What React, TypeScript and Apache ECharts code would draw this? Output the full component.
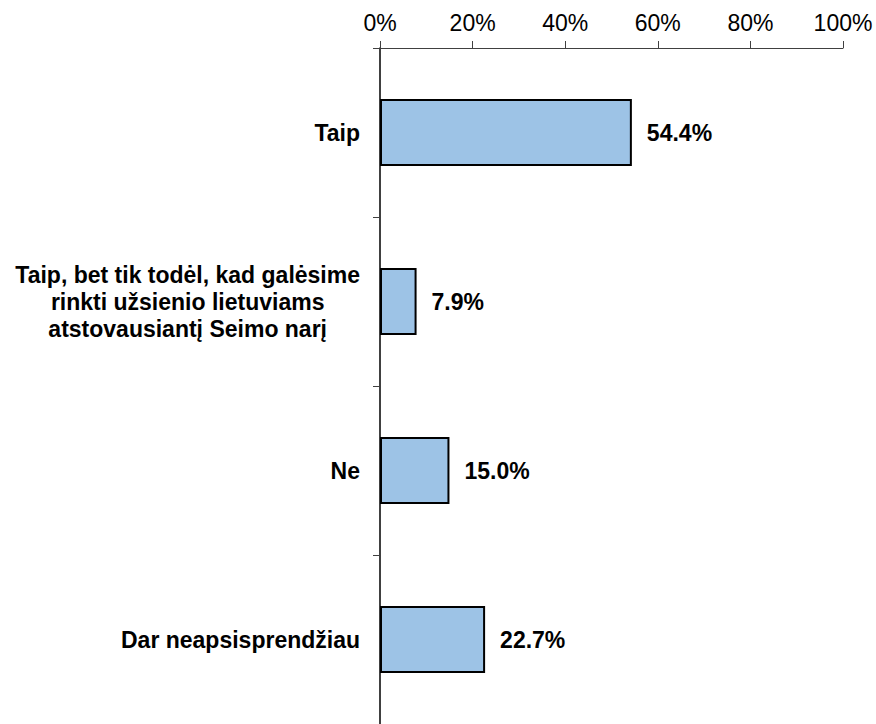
import React, { useEffect, useRef } from "react";
import * as echarts from "echarts";

const categories: string[] = [
  "Taip",
  "Taip, bet tik todėl, kad galėsime\nrinkti užsienio lietuviams\natstovausiantį Seimo narį",
  "Ne",
  "Dar neapsisprendžiau",
];
const values: number[] = [54.4, 7.9, 15.0, 22.7];
const axisMax = 100;
const axisStep = 20;

const FONT = "'Liberation Sans', Arial, sans-serif";

export default function App() {
  const ref = useRef<HTMLDivElement>(null);
  useEffect(() => {
    if (!ref.current) return;
    const chart = echarts.init(ref.current, null, { renderer: "svg" });
    chart.setOption({
      animation: false,
      backgroundColor: "#ffffff",
      grid: { left: 380, right: 33, top: 48, bottom: -4, containLabel: false },
      xAxis: {
        type: "value",
        position: "top",
        min: 0,
        max: axisMax,
        interval: axisStep,
        splitLine: { show: false },
        axisLine: { show: true, lineStyle: { color: "#404040", width: 1 } },
        axisTick: { show: true, length: 7, inside: false, lineStyle: { color: "#404040", width: 1 } },
        axisLabel: {
          formatter: (v: number) => v + "%",
          color: "#000",
          fontSize: 23,
          fontFamily: FONT,
          margin: 14,
        },
      },
      yAxis: {
        type: "category",
        inverse: true,
        data: categories,
        boundaryGap: true,
        axisLine: { show: true, lineStyle: { color: "#000", width: 1.5 } },
        axisTick: { show: true, length: 7, inside: false, alignWithLabel: false, lineStyle: { color: "#404040", width: 1 } },
        axisLabel: {
          margin: 20,
          formatter: (v: string) => "{c|" + v + "}",
          rich: {
            c: {
              align: "center",
              color: "#000",
              fontSize: 23,
              fontWeight: "bold",
              fontFamily: FONT,
              lineHeight: 27,
            },
          },
        },
      },
      series: [
        {
          type: "bar",
          data: values,
          barWidth: 67,
          itemStyle: { color: "#9DC3E6", borderColor: "#000", borderWidth: 2 },
          label: {
            show: true,
            position: "right",
            distance: 15,
            formatter: (p: any) => p.value.toFixed(1) + "%",
            color: "#000",
            fontSize: 23,
            fontWeight: "bold",
            fontFamily: FONT,
          },
        },
      ],
    });
    return () => chart.dispose();
  }, []);
  return (
    <div
      ref={ref}
      style={{ position: "absolute", left: 0, top: 0, width: 876, height: 724 }}
    />
  );
}
